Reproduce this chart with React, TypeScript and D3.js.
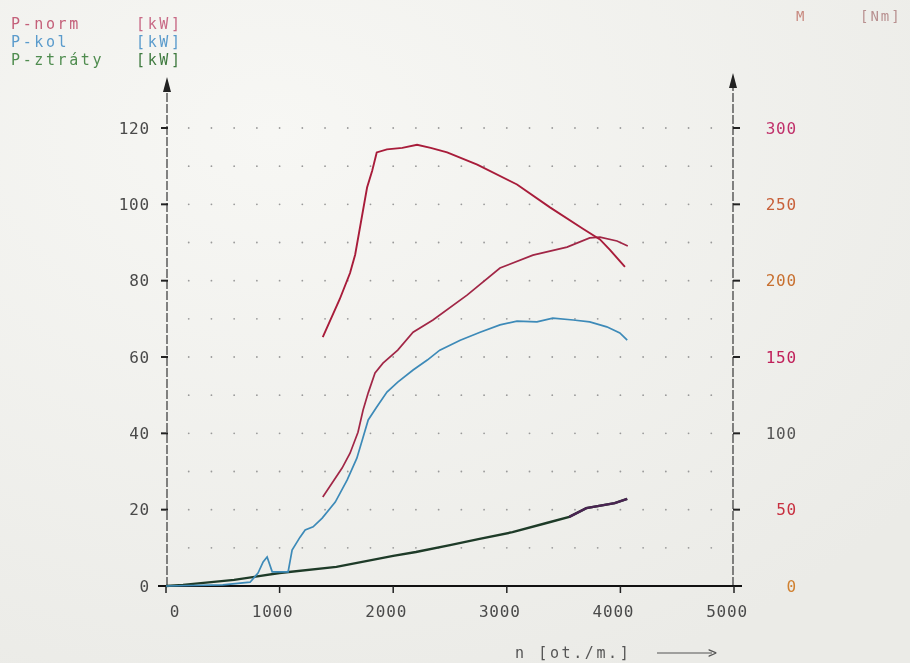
import React from "react";
import * as d3 from "d3";

// ---- data ----
const xTicks = [0, 1000, 2000, 3000, 4000, 5000];
const yLeftTicks = [0, 20, 40, 60, 80, 100, 120];
const yRightTicks = [0, 50, 100, 150, 200, 250, 300];

const rpmPnorm = [1380, 1550, 1620, 1690, 1735, 1780, 1840, 1910, 2040, 2175, 2350, 2650, 2940, 3230, 3530, 3730, 3820, 3970, 4065];
const pNorm = [23.3, 30.9, 34.8, 40.3, 46.1, 50.6, 55.8, 58.4, 61.8, 66.5, 69.7, 76.2, 83.3, 86.7, 88.8, 91.2, 91.4, 90.4, 89.1];

const rpmKol = [0, 500, 740, 810, 855, 890, 935, 1075, 1110, 1180, 1225, 1295, 1375, 1490, 1595, 1680, 1735, 1780, 1855, 1945, 2040, 2175, 2300, 2410, 2590, 2765, 2940, 3090, 3265, 3405, 3585, 3730, 3880, 3995, 4060];
const pKol = [0, 0.3, 1.0, 3.4, 6.3, 7.6, 3.7, 3.7, 9.4, 12.8, 14.7, 15.5, 17.8, 22.0, 27.8, 33.5, 39.0, 43.5, 46.9, 50.8, 53.4, 56.6, 59.2, 61.8, 64.4, 66.5, 68.4, 69.4, 69.2, 70.2, 69.7, 69.2, 67.9, 66.3, 64.4];

const rpmZtr = [0, 150, 600, 1000, 1500, 2000, 2200, 2500, 2750, 3050, 3350, 3550, 3700, 3950, 4060];
const pZtr = [0, 0.3, 1.6, 3.4, 5.0, 7.9, 8.9, 10.7, 12.3, 14.1, 16.5, 18.1, 20.4, 21.7, 22.8];

const rpmM = [1380, 1530, 1620, 1665, 1770, 1815, 1855, 1945, 2080, 2210, 2330, 2475, 2740, 3090, 3380, 3670, 3820, 3910, 4040];
const torque = [163, 188, 205, 217, 261, 272, 284, 286, 287, 289, 287, 284, 276, 263, 248, 234, 227, 220, 209];

const legendItems = [
  { name: "P-norm", unit: "[kW]", color: "#c4607a", unitColor: "#c86a86" },
  { name: "P-kol", unit: "[kW]", color: "#5a9bcc", unitColor: "#5a9bcc" },
  { name: "P-ztráty", unit: "[kW]", color: "#4f8c4f", unitColor: "#3f7a3f" },
];
const rightTickColors = ["#d08030", "#c83040", "#555555", "#c0205a", "#c87030", "#c8603a", "#c0306a"];

const W = 910;
const H = 663;
const FONT = "'DejaVu Sans Mono', 'Liberation Mono', monospace";

export default function App() {
  const x = d3.scaleLinear().domain([0, 5000]).range([166, 734]);
  const yL = d3.scaleLinear().domain([0, 120]).range([586, 128]);
  const yR = d3.scaleLinear().domain([0, 300]).range([586, 128]);

  const lineL = (xs: number[], ys: number[]) =>
    d3.line<number>().x((_, i) => x(xs[i])).y((v) => yL(v))(ys) || "";
  const lineR = (xs: number[], ys: number[]) =>
    d3.line<number>().x((_, i) => x(xs[i])).y((v) => yR(v))(ys) || "";

  const dotsX = d3.range(200, 5000, 200);
  const dotsY = d3.range(10, 121, 10);

  const purpleIdx = rpmZtr.map((r, i) => i).filter((i) => rpmZtr[i] >= 3550);
  const purpleX = purpleIdx.map((i) => rpmZtr[i]);
  const purpleY = purpleIdx.map((i) => pZtr[i]);

  const x0 = x(0);
  const x5 = x(5000);
  const yBase = yL(0);

  return (
    <div style={{ position: "fixed", left: 0, top: 0, width: W, height: H }}>
      <svg width={W} height={H} style={{ display: "block" }} fontFamily={FONT}>
        <defs>
          <radialGradient id="bg" cx="30%" cy="20%" r="90%">
            <stop offset="0%" stopColor="#f7f7f4" />
            <stop offset="100%" stopColor="#ebebe7" />
          </radialGradient>
        </defs>
        <rect width={W} height={H} fill="url(#bg)" />

        {/* legend */}
        {legendItems.map((d, i) => (
          <g key={d.name}>
            <text x={11} y={29 + i * 18} fontSize={15} letterSpacing={2.6} fill={d.color}>
              {d.name}
            </text>
            <text x={136} y={29 + i * 18} fontSize={15} letterSpacing={2.6} fill={d.unitColor}>
              {d.unit}
            </text>
          </g>
        ))}
        <text x={796} y={21} fontSize={14} letterSpacing={2} fill="#c88a80">M</text>
        <text x={860} y={21} fontSize={14} letterSpacing={2} fill="#b89090">[Nm]</text>

        {/* grid dots */}
        {dotsY.map((v) =>
          dotsX.map((r) => (
            <circle key={v + "-" + r} cx={x(r)} cy={yL(v)} r={0.9} fill="#9a9a9a" />
          ))
        )}

        {/* left axis */}
        <line x1={x0 + 1} x2={x0 + 1} y1={yBase} y2={92} stroke="#444" strokeWidth={1.3} strokeDasharray="9 2" />
        <path d={`M${x0 + 1},77 L${x0 - 3},92 L${x0 + 5},92 Z`} fill="#222" />
        {yLeftTicks.map((v) => (
          <g key={v}>
            <line x1={x0 - 5} x2={x0 + 2} y1={yL(v)} y2={yL(v)} stroke="#222" strokeWidth={2} />
            <text x={150} y={yL(v)} dy="0.36em" textAnchor="end" fontSize={16} letterSpacing={0.8} fill="#4a4a4a">
              {v}
            </text>
          </g>
        ))}

        {/* right axis */}
        <line x1={x5 - 1} x2={x5 - 1} y1={yBase} y2={88} stroke="#444" strokeWidth={1.3} strokeDasharray="9 2" />
        <path d={`M${x5 - 1},73 L${x5 - 5},88 L${x5 + 3},88 Z`} fill="#222" />
        {yRightTicks.map((v, i) => (
          <g key={v}>
            <line x1={x5 - 1} x2={x5 + 6} y1={yR(v)} y2={yR(v)} stroke="#222" strokeWidth={2} />
            <text x={797} y={yR(v)} dy="0.36em" textAnchor="end" fontSize={16} letterSpacing={0.8} fill={rightTickColors[i]}>
              {v}
            </text>
          </g>
        ))}

        {/* x axis */}
        <line x1={x0 - 8} x2={x5 + 8} y1={yBase} y2={yBase} stroke="#111" strokeWidth={2.2} />
        {xTicks.map((v) => (
          <g key={v}>
            <line x1={x(v)} x2={x(v)} y1={yBase} y2={yBase + 7} stroke="#222" strokeWidth={1.5} />
            <text x={x(v) + (v === 0 ? 9 : -7)} y={611} dy="0.36em" textAnchor="middle" fontSize={16} letterSpacing={0.8} fill="#4a4a4a">
              {v}
            </text>
          </g>
        ))}
        <text x={515} y={653} dy="0.36em" fontSize={15} letterSpacing={2.6} fill="#555">n [ot./m.]</text>
        <line x1={657} x2={712} y1={653} y2={653} stroke="#555" strokeWidth={1.2} />
        <text x={708} y={653} dy="0.36em" fontSize={15} fill="#555">&gt;</text>

        {/* curves */}
        <path d={lineL(rpmZtr, pZtr)} fill="none" stroke="#1e3b28" strokeWidth={2.4} />
        <path d={lineL(purpleX, purpleY)} fill="none" stroke="#4a2452" strokeWidth={2.4} />
        <path d={lineL(rpmKol, pKol)} fill="none" stroke="#3d8ab8" strokeWidth={1.7} />
        <path d={lineL(rpmPnorm, pNorm)} fill="none" stroke="#a12646" strokeWidth={1.7} />
        <path d={lineR(rpmM, torque)} fill="none" stroke="#a81c3a" strokeWidth={1.9} />
      </svg>
    </div>
  );
}
